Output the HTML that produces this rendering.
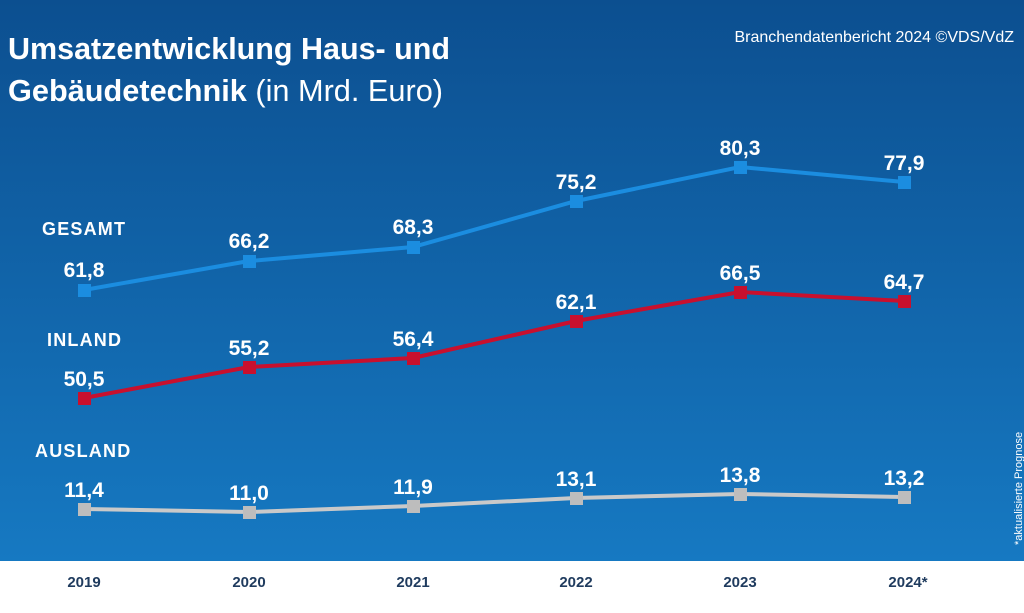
<!DOCTYPE html>
<html><head><meta charset="utf-8"><style>
body{margin:0;width:1024px;height:608px;overflow:hidden;font-family:"Liberation Sans",sans-serif}
</style></head><body>
<svg width="1024" height="608" xmlns="http://www.w3.org/2000/svg">
<defs><linearGradient id="g" x1="0" y1="0" x2="0" y2="1">
<stop offset="0" stop-color="#0c4f90"/><stop offset="1" stop-color="#1679c2"/></linearGradient></defs>
<rect width="1024" height="561" fill="url(#g)"/>
<rect y="561" width="1024" height="47" fill="#fff"/>
<g font-family="Liberation Sans, sans-serif" fill="#fff">
<text x="8" y="59" font-size="31" font-weight="bold" textLength="442" lengthAdjust="spacingAndGlyphs">Umsatzentwicklung Haus- und</text>
<text x="8" y="101" font-size="31" textLength="435" lengthAdjust="spacingAndGlyphs"><tspan font-weight="bold">Gebäudetechnik</tspan><tspan> (in Mrd. Euro)</tspan></text>
<text x="1014" y="42" font-size="16" text-anchor="end">Branchendatenbericht 2024 ©VDS/VdZ</text>
<text x="42" y="235" font-size="18" font-weight="bold" letter-spacing="1.2">GESAMT</text>
<text x="47" y="346" font-size="18" font-weight="bold" letter-spacing="1.2">INLAND</text>
<text x="35" y="457" font-size="18" font-weight="bold" letter-spacing="1.2">AUSLAND</text>
<text transform="translate(1022,545) rotate(-90)" font-size="11">*aktualisierte Prognose</text>
</g>
<polyline points="84,290 249,261 413,247 576,201 740,167 904,182" fill="none" stroke="#1b8de0" stroke-width="4"/>
<polyline points="84,398 249,367 413,358 576,321 740,292 904,301" fill="none" stroke="#c8102e" stroke-width="4"/>
<polyline points="84,509 249,512 413,506 576,498 740,494 904,497" fill="none" stroke="#c9c9c9" stroke-width="4"/>
<g fill="#1b8de0"><rect x="78" y="284" width="13" height="13"/><rect x="243" y="255" width="13" height="13"/><rect x="407" y="241" width="13" height="13"/><rect x="570" y="195" width="13" height="13"/><rect x="734" y="161" width="13" height="13"/><rect x="898" y="176" width="13" height="13"/></g>
<g fill="#c8102e"><rect x="78" y="392" width="13" height="13"/><rect x="243" y="361" width="13" height="13"/><rect x="407" y="352" width="13" height="13"/><rect x="570" y="315" width="13" height="13"/><rect x="734" y="286" width="13" height="13"/><rect x="898" y="295" width="13" height="13"/></g>
<g fill="#bdbdbd"><rect x="78" y="503" width="13" height="13"/><rect x="243" y="506" width="13" height="13"/><rect x="407" y="500" width="13" height="13"/><rect x="570" y="492" width="13" height="13"/><rect x="734" y="488" width="13" height="13"/><rect x="898" y="491" width="13" height="13"/></g>
<g fill="#fff" font-size="21" font-weight="bold" text-anchor="middle">
<text x="84" y="277">61,8</text><text x="249" y="248">66,2</text><text x="413" y="234">68,3</text><text x="576" y="189">75,2</text><text x="740" y="155">80,3</text><text x="904" y="170">77,9</text>
<text x="84" y="386">50,5</text><text x="249" y="355">55,2</text><text x="413" y="346">56,4</text><text x="576" y="309">62,1</text><text x="740" y="280">66,5</text><text x="904" y="289">64,7</text>
<text x="84" y="497">11,4</text><text x="249" y="500">11,0</text><text x="413" y="494">11,9</text><text x="576" y="486">13,1</text><text x="740" y="482">13,8</text><text x="904" y="485">13,2</text>
</g>
<g fill="#1f3b5e" font-size="15" font-weight="bold" text-anchor="middle">
<text x="84" y="587">2019</text><text x="249" y="587">2020</text><text x="413" y="587">2021</text><text x="576" y="587">2022</text><text x="740" y="587">2023</text><text x="908" y="587">2024*</text>
</g>
</svg>
</body></html>
